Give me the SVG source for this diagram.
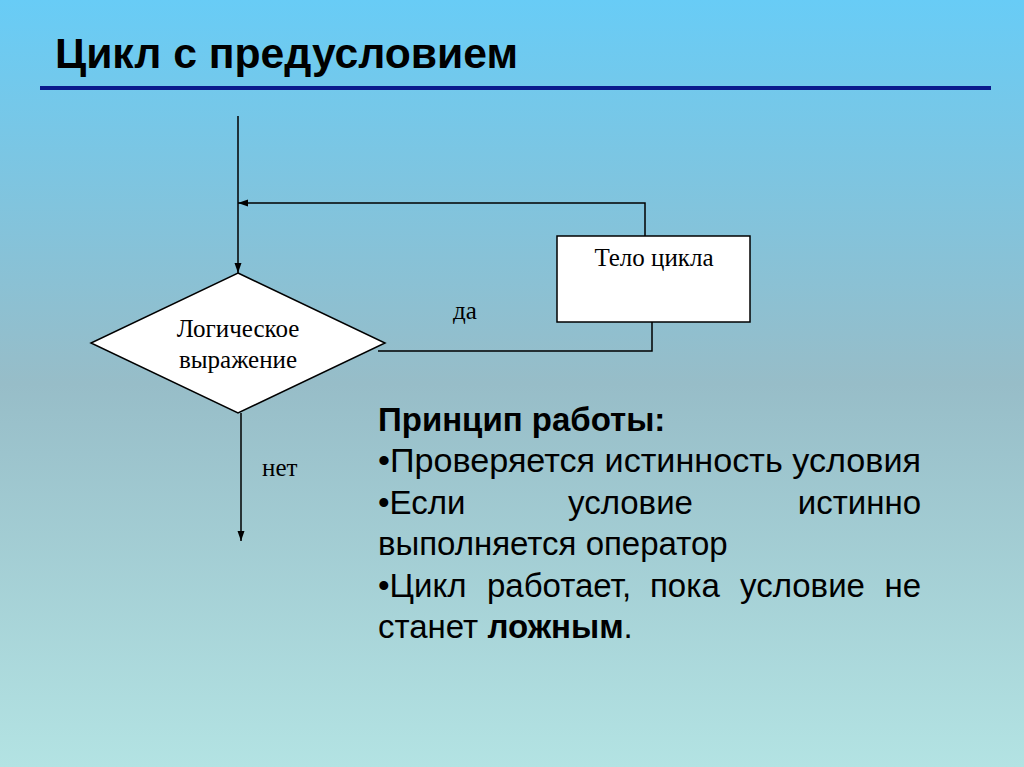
<svg xmlns="http://www.w3.org/2000/svg" width="1024" height="767" viewBox="0 0 1024 767">
<defs>
<linearGradient id="bg" x1="0" y1="0" x2="0" y2="1">
<stop offset="0" stop-color="#68ccf6"/>
<stop offset="0.5" stop-color="#97bdc8"/>
<stop offset="1" stop-color="#b3e3e3"/>
</linearGradient>
<marker id="arr" viewBox="0 0 10 10" refX="10" refY="5" markerWidth="10" markerHeight="10" markerUnits="userSpaceOnUse" orient="auto">
<path d="M0,1.5 L10,5 L0,8.5 Z" fill="#000"/>
</marker>
<style>
.ln{stroke:#000;stroke-width:1.5;fill:none}
.shape{fill:#fff;stroke:#000;stroke-width:1.5}
.serif{font-family:"Liberation Serif","Times New Roman",serif;font-size:25px;fill:#000}
.body{font-family:"Liberation Sans",Arial,sans-serif;font-size:33px;fill:#000}
.b{font-weight:bold}
</style>
</defs>
<rect x="0" y="0" width="1024" height="767" fill="url(#bg)"/>
<g id="title">
<text x="55" y="68" font-family="'Liberation Sans',Arial,sans-serif" font-weight="bold" font-size="42" textLength="463" lengthAdjust="spacingAndGlyphs">Цикл с предусловием</text>
<line x1="40" y1="88" x2="991" y2="88" stroke="#0a1a8c" stroke-width="4"/>
</g>
<g id="connectors">
<line class="ln" x1="238" y1="116" x2="238" y2="273" marker-end="url(#arr)"/>
<polyline class="ln" points="645,236 645,203 238,203" marker-end="url(#arr)"/>
<polyline class="ln" points="378,351 652,351 652,322"/>
<line class="ln" x1="241" y1="413" x2="241" y2="541" marker-end="url(#arr)"/>
<text class="serif" x="453" y="319">да</text>
<text class="serif" x="262" y="476">нет</text>
</g>
<g id="condition">
<polygon class="shape" points="238,273 385,343 238,413 91,343"/>
<text class="serif" x="238" y="337" text-anchor="middle">Логическое</text>
<text class="serif" x="238" y="368" text-anchor="middle">выражение</text>
</g>
<g id="body">
<rect class="shape" x="557" y="236" width="193" height="86"/>
<text class="serif" x="654" y="266" text-anchor="middle">Тело цикла</text>
</g>
<g id="principle">
<text class="body b" x="378" y="431">Принцип работы:</text>
<text class="body" x="378" y="472" textLength="543" lengthAdjust="spacingAndGlyphs">•Проверяется истинность условия</text>
<text class="body" x="378" y="514">•Если</text>
<text class="body" x="568" y="514">условие</text>
<text class="body" x="921" y="514" text-anchor="end">истинно</text>
<text class="body" x="378" y="555">выполняется оператор</text>
<text class="body" x="378" y="597">•Цикл</text>
<text class="body" x="487" y="597">работает,</text>
<text class="body" x="650" y="597">пока</text>
<text class="body" x="740" y="597">условие</text>
<text class="body" x="921" y="597" text-anchor="end">не</text>
<text class="body" x="378" y="638">станет <tspan class="b">ложным</tspan>.</text>
</g>
</svg>
